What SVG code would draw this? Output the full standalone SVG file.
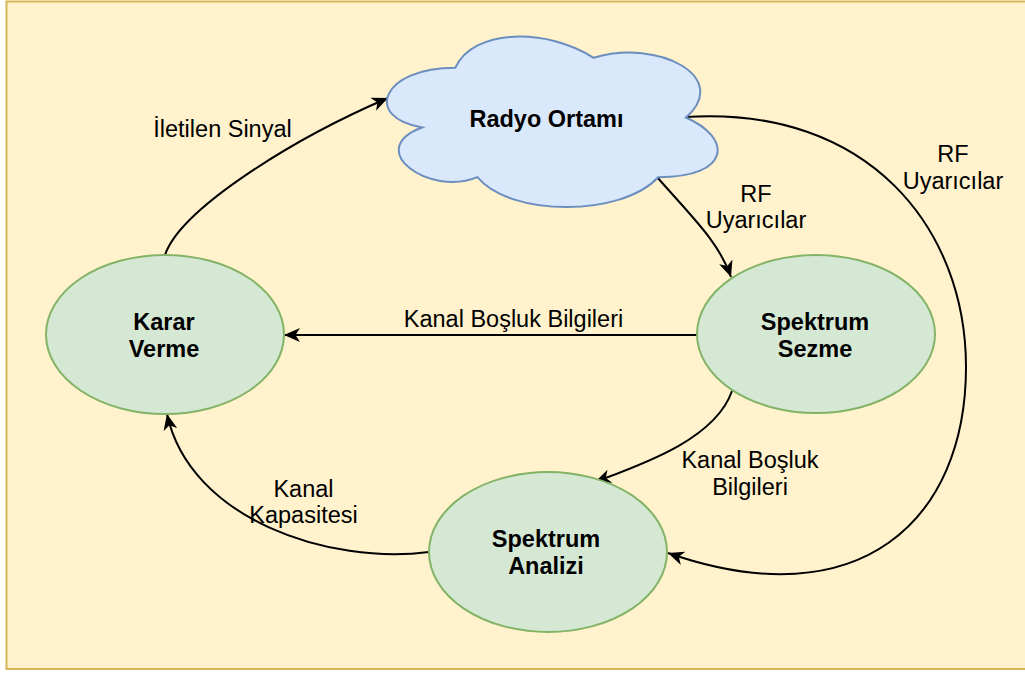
<svg xmlns="http://www.w3.org/2000/svg" width="1025" height="673" viewBox="0 0 1025 673">
  <style>
    .node-ellipse { fill: #d5e8d4; stroke: #82b366; stroke-width: 2; }
    .cloud { fill: #dae8fc; stroke: #6c8ebf; stroke-width: 2; }
    .edge { fill: none; stroke: #000000; stroke-width: 2; }
    .title { font-family: "Liberation Sans", Arial, sans-serif; font-size: 23.5px; font-weight: bold; fill: #000000; text-anchor: middle; }
    .label { font-family: "Liberation Sans", Arial, sans-serif; font-size: 23.5px; fill: #000000; text-anchor: middle; }
  </style>
  <defs>
    <marker id="arrow" markerUnits="userSpaceOnUse" markerWidth="17" markerHeight="14" viewBox="0 0 17 14" refX="16" refY="7" orient="auto">
      <path d="M16,7 L0,0 L4.5,7 L0,14 Z" fill="#000000"/>
    </marker>
  </defs>

  <rect id="background" x="6.5" y="1.5" width="1030" height="667.5" fill="#fff2cc" stroke="#d6b656" stroke-width="2"/>

  <g id="connectors">
    <path id="e-karar-radyo" class="edge" d="M165,255 C180,210 290,140 388,98" marker-end="url(#arrow)"/>
    <path id="e-radyo-sezme" class="edge" d="M657,177 C692,217 719,242 731,277" marker-end="url(#arrow)"/>
    <path id="e-sezme-karar" class="edge" d="M697,335 L284,335" marker-end="url(#arrow)"/>
    <path id="e-sezme-analiz" class="edge" d="M732,391 C715,440 640,465 595,482" marker-end="url(#arrow)"/>
    <path id="e-analiz-karar" class="edge" d="M429,552 C330,565 190,520 167,414" marker-end="url(#arrow)"/>
    <path id="e-radyo-analiz" class="edge" d="M685,117 C870,105 966,230 966,367 C966,520 860,620 668,553" marker-end="url(#arrow)"/>

    <text class="label" x="222.5" y="137">İletilen Sinyal</text>
    <text class="label" x="756" y="202">RF</text>
    <text class="label" x="756" y="228">Uyarıcılar</text>
    <text class="label" x="953" y="162">RF</text>
    <text class="label" x="953" y="189">Uyarıcılar</text>
    <text class="label" x="513.5" y="327">Kanal Boşluk Bilgileri</text>
    <text class="label" x="750" y="468">Kanal Boşluk</text>
    <text class="label" x="750" y="495">Bilgileri</text>
    <text class="label" x="303.5" y="497">Kanal</text>
    <text class="label" x="303.5" y="523">Kapasitesi</text>
  </g>

  <g id="node-radyo-ortami">
    <path class="cloud" d="M455.25,67.75 C381.45,67.75 363,117.5 422.04,127.45 C363,149.34 429.42,197.1 477.39,177.2 C510.6,217 621.3,217 658.2,177.2 C732,177.2 732,137.4 685.875,117.5 C732,77.7 658.2,37.9 593.625,57.8 C547.5,27.95 473.7,27.95 455.25,67.75 Z"/>
    <text class="title" x="546.5" y="127">Radyo Ortamı</text>
  </g>

  <g id="node-karar-verme">
    <ellipse class="node-ellipse" cx="165" cy="334.5" rx="119" ry="79.5"/>
    <text class="title" x="164" y="330">Karar</text>
    <text class="title" x="164" y="357">Verme</text>
  </g>

  <g id="node-spektrum-sezme">
    <ellipse class="node-ellipse" cx="816" cy="334" rx="119" ry="79"/>
    <text class="title" x="815" y="330">Spektrum</text>
    <text class="title" x="815" y="357">Sezme</text>
  </g>

  <g id="node-spektrum-analizi">
    <ellipse class="node-ellipse" cx="548" cy="552" rx="119" ry="80"/>
    <text class="title" x="546" y="547">Spektrum</text>
    <text class="title" x="546" y="574">Analizi</text>
  </g>
</svg>
